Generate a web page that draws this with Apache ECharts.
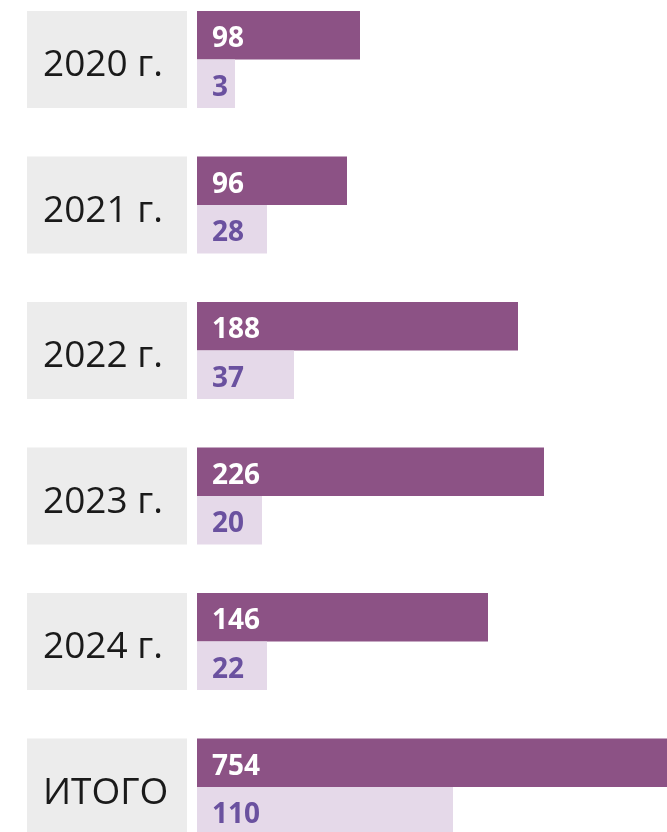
<!DOCTYPE html>
<html>
<head>
<meta charset="utf-8">
<script src="https://cdn.jsdelivr.net/npm/echarts@6/dist/echarts.min.js"></script>
<style>
	html, body { margin: 0; padding: 0; background: #ffffff; }
	#chart { width: 667px; height: 832px; }
</style>
</head>
<body>
<div id="chart"></div>
<script>

// rows of the infographic
var years = ['2020 г.', '2021 г.', '2022 г.', '2023 г.', '2024 г.', 'ИТОГО'];

// printed numbers
var darkValues = [98, 96, 188, 226, 146, 754];
var lightValues = [3, 28, 37, 20, 22, 110];

// the source graphic is not drawn to scale, so the bar lengths are read off
// the picture on their own (full width of the bar area = 470)
var darkShown = [163, 150, 321, 347, 291, 480];
var lightShown = [38, 70, 97, 65, 70, 256];


function showBars() {

	var myChart = echarts.init(document.getElementById('chart'));

	var font = '"Open Sans", "Noto Sans", sans-serif';

	function valueLabel(values, color) {
		return {
			show: true,
			position: 'insideLeft',
			distance: 15,
			offset: [0, 4],
			color: color,
			fontFamily: font,
			fontWeight: 'bold',
			fontSize: 28,
			formatter: function (p) {
				return values[p.dataIndex];
			}
		};
	}

	var option = {
		backgroundColor: '#ffffff',
		animation: false,
		grid: {
			left: 197,
			right: 0,
			top: 59.5,
			height: 727.5,
			containLabel: false,
			outerBoundsMode: 'none'
		},
		xAxis: {
			type: 'value',
			min: 0,
			max: 470,
			show: false
		},
		yAxis: {
			type: 'category',
			data: years,
			inverse: true,
			boundaryGap: false,
			axisLine: { show: false },
			axisTick: { show: false },
			splitLine: { show: false },
			axisLabel: {
				margin: 170,
				align: 'left',
				formatter: function (v) {
					return '{t|' + v + '}';
				},
				rich: {
					t: {
						color: '#1a1a1a',
						fontFamily: font,
						fontSize: 37,
						width: 144,
						height: 85,
						lineHeight: 85,
						align: 'left',
						padding: [12, 0, 0, 16],
						backgroundColor: '#ececec'
					}
				}
			}
		},
		series: [
			{
				name: 'dark',
				type: 'bar',
				data: darkShown,
				barWidth: 48.5,
				barGap: 0,
				itemStyle: { color: '#8c5285' },
				label: valueLabel(darkValues, '#ffffff')
			},
			{
				name: 'light',
				type: 'bar',
				data: lightShown,
				barWidth: 48.5,
				barGap: 0,
				itemStyle: { color: '#e5d9e9' },
				label: valueLabel(lightValues, '#6a519f')
			}
		]
	};

	// show the Chart
	myChart.setOption(option);
}

showBars();
</script>
</body>
</html>
